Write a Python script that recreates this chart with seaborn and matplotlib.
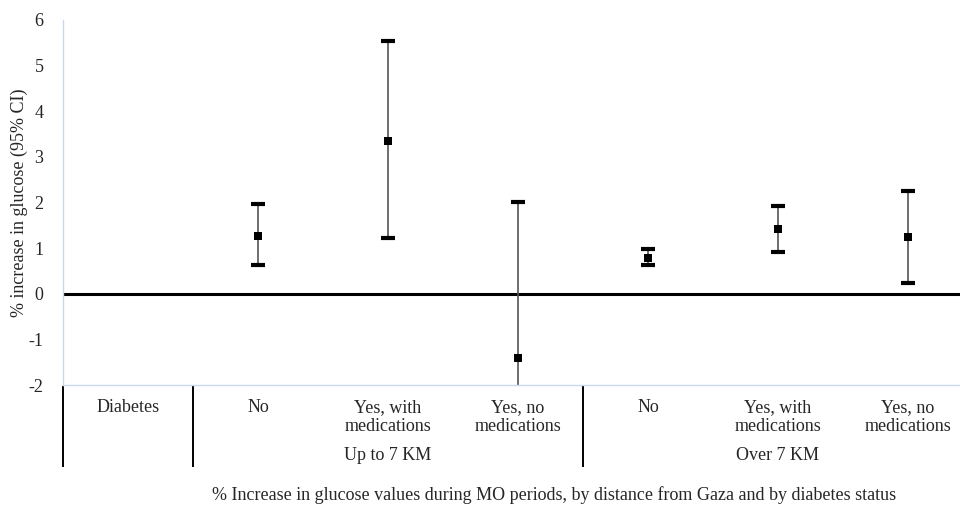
import matplotlib
matplotlib.use("Agg")
import matplotlib.pyplot as plt
import matplotlib.transforms as mtransforms
import seaborn as sns
import pandas as pd
import numpy as np

# ---- data ----
row_header = "Diabetes"
categories = ["No", "Yes, with\nmedications", "Yes, no\nmedications",
              "No", "Yes, with\nmedications", "Yes, no\nmedications"]
groups = ["Up to 7 KM", "Over 7 KM"]
estimate = [1.27, 3.35, -1.40, 0.78, 1.41, 1.24]
ci_low = [0.62, 1.22, -4.80, 0.62, 0.91, 0.24]
ci_high = [1.96, 5.53, 2.01, 0.97, 1.93, 2.25]
y_ticks = [-2, -1, 0, 1, 2, 3, 4, 5, 6]
y_label = "% increase in glucose (95% CI)"
x_title = "% Increase in glucose values during MO periods, by distance from Gaza and by diabetes status"

sns.set_theme(style="white")
plt.rcParams['font.family'] = ['Liberation Serif', 'DejaVu Serif']

df = pd.DataFrame({"pos": np.arange(1, len(categories) + 1),
                   "est": estimate, "lo": ci_low, "hi": ci_high})

fig = plt.figure(figsize=(9.6, 5.05), dpi=100)
ax = fig.add_axes([63 / 960, 1 - 385 / 505, 1 - 63 / 960, (385 - 20) / 505])

# zero line
ax.axhline(0, color="black", lw=2.2, zorder=1)

# error bars
yerr = np.vstack([df["est"] - df["lo"], df["hi"] - df["est"]])
ax.errorbar(df["pos"], df["est"], yerr=yerr, fmt="none", ecolor="#555555",
            elinewidth=1.2, capsize=0, zorder=2)
# caps
ax.scatter(df["pos"], df["hi"], marker="_", s=110, color="black", linewidths=3.0, zorder=3)
ax.scatter(df["pos"], df["lo"], marker="_", s=110, color="black", linewidths=3.0, zorder=3)

sns.scatterplot(data=df, x="pos", y="est", marker="s", s=38, color="black",
                edgecolor="black", linewidth=0, ax=ax, zorder=4)

ax.set_xlim(-0.5, 6.4)
ax.set_ylim(-2, 6)
ax.set_yticks(y_ticks)
ax.set_yticklabels([str(t) for t in y_ticks], fontsize=13)
ax.tick_params(axis="y", length=0, pad=14)
ax.set_xticks([])
ax.set_xlabel("")
ax.set_ylabel(y_label, fontsize=13)
ax.yaxis.set_label_coords(-0.039, 0.5)

for s in ["top", "right"]:
    ax.spines[s].set_visible(False)
for s in ["left", "bottom"]:
    ax.spines[s].set_color("#c8d9ee")
    ax.spines[s].set_linewidth(1.0)

# ---- category table below the axes ----
tr = mtransforms.blended_transform_factory(ax.transData, fig.transFigure)
def fy(py):
    return 1 - py / 505

ax.text(0, fy(399), row_header, transform=tr, ha="center", va="top", fontsize=13, clip_on=False)
for i, lab in enumerate(categories):
    ax.text(i + 1, fy(399), lab, transform=tr, ha="center", va="top", fontsize=13,
            linespacing=1.15, clip_on=False)
group_centers = [2, 5]
for g, c in zip(groups, group_centers):
    ax.text(c, fy(456), g, transform=tr, ha="center", va="center", fontsize=13, clip_on=False)

for xv in [-0.5, 0.5, 3.5]:
    ax.plot([xv, xv], [fy(386), fy(467)], transform=tr, color="black", lw=1.4,
            clip_on=False, solid_capstyle="butt")

fig.text(554 / 960, fy(495), x_title, ha="center", va="center", fontsize=13)

fig.savefig("out.png", dpi=100)
